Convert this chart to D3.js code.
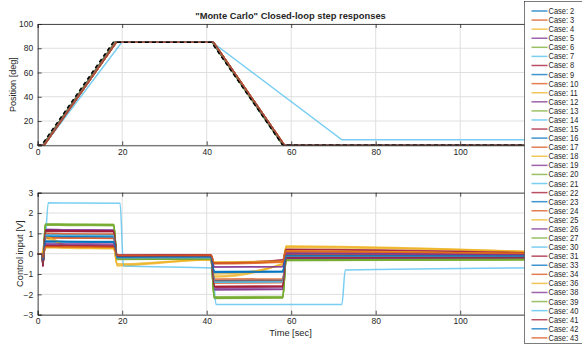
<!DOCTYPE html>
<html>
<head>
<meta charset="utf-8">
<script src="https://cdn.jsdelivr.net/npm/d3@7"></script>
<style>
  body { margin: 0; background: #fff; }
  svg text { font-family: "Liberation Sans", Arial, sans-serif; fill: #262626; }
</style>
</head>
<body>
<svg id="chart" width="582" height="345"></svg>
<script>
// ---- data ----
var cases = [2,3,4,5,6,7,8,9,10,11,12,13,14,15,16,17,18,19,20,21,22,23,24,25,26,27,30,31,33,34,36,38,39,40,41,42,43];
var outlierCase = 21;

// reference trajectory (black dashed) and nominal response
var refTimes  = [0, 0.9, 17.9, 41.1, 58.0, 120];
var refValues = [0, 0, 85, 85, 0, 0];
var posTimes  = [0, 1.2, 18.3, 41.3, 58.1, 120];
var posValues = [0, 0, 85, 85, 0, 0];
var posLag    = [0.1,0.2,0.3,0.1,0.0,0.2,0.3,0.1,0.2,0.3,0.1,0.0,0.2,0.3,0.1,0.2,0.3,0.1,0.0,0,0.3,0.1,0.2,0.3,0.1,0.0,0.2,0.3,0.1,0.2,0.3,0.1,0.0,0.2,0.3,0.1,0.15];
// slow case
var outPosTimes  = [0, 1.5, 19.9, 41.3, 72.0, 120];
var outPosValues = [0, 0, 85, 85, 4.5, 4.5];

// control input levels per case [V]
var ctrlDip       = [-0.3,-0.4,0.2,-0.6,-0.5,-0.4,-0.2,-0.5,-0.3,0.1,-0.6,-0.5,-0.4,-0.6,-0.3,-0.4,0.2,-0.3,-0.5,0,-0.6,-0.3,-0.4,-0.1,-0.6,-0.5,-0.4,-0.2,-0.5,-0.4,-0.1,-0.3,-0.5,-0.4,-0.6,-0.3,-0.2];
var ctrlUpStart   = [0.60,0.80,0.90,1.20,1.46,0.95,0.38,0.85,0.35,0.75,1.15,1.44,0.92,1.12,0.58,0.78,0.85,0.45,1.42,2.50,1.10,0.62,1.00,0.32,1.18,1.45,0.95,0.40,0.88,0.97,0.30,0.50,1.40,0.93,1.15,0.60,0.35];
var ctrlUpMid     = [0.59,0.78,0.40,1.18,1.45,0.93,0.37,0.83,0.34,0.35,1.13,1.43,0.91,1.11,0.57,0.76,0.33,0.44,1.41,2.49,1.09,0.61,0.98,0.30,1.16,1.44,0.93,0.39,0.86,0.95,0.27,0.49,1.39,0.91,1.13,0.59,0.33];
var ctrlUpEnd     = [0.58,0.76,0.30,1.17,1.44,0.92,0.36,0.82,0.33,0.28,1.12,1.42,0.90,1.10,0.56,0.75,0.25,0.43,1.40,2.48,1.08,0.60,0.97,0.28,1.15,1.43,0.92,0.38,0.85,0.94,0.24,0.48,1.38,0.90,1.12,0.58,0.32];
var ctrlHoldStart = [-0.18,-0.15,-0.55,-0.25,-0.28,-0.2,-0.08,-0.2,-0.1,-0.5,-0.24,-0.27,-0.2,-0.22,-0.17,-0.15,-0.6,-0.14,-0.26,-0.6,-0.1,-0.18,-0.2,-0.12,-0.24,-0.27,-0.2,-0.06,-0.2,-0.2,-0.1,-0.14,-0.26,-0.2,-0.12,-0.17,-0.09];
var ctrlHoldEnd   = [-0.17,-0.14,-0.3,-0.24,-0.27,-0.19,-0.07,-0.19,-0.09,-0.28,-0.23,-0.26,-0.19,-0.21,-0.16,-0.14,-0.3,-0.13,-0.25,-0.7,-0.09,-0.17,-0.19,-0.11,-0.23,-0.26,-0.19,-0.05,-0.19,-0.19,-0.09,-0.13,-0.25,-0.19,-0.11,-0.16,-0.08];
var ctrlDownStart = [-0.90,-1.30,-1.15,-1.78,-2.20,-1.40,-0.45,-1.35,-0.50,-1.00,-1.70,-2.18,-1.38,-1.65,-0.88,-1.25,-1.10,-0.65,-2.15,-2.50,-1.60,-0.92,-1.45,-0.45,-1.76,-2.19,-1.40,-0.44,-1.33,-1.36,-0.40,-0.66,-2.12,-1.39,-1.62,-0.90,-0.48];
var ctrlDownEnd   = [-0.88,-1.28,-0.50,-1.76,-2.18,-1.38,-0.30,-1.33,-0.42,-0.55,-1.68,-2.16,-1.36,-1.63,-0.86,-1.23,-0.48,-0.63,-2.13,-2.50,-1.58,-0.90,-1.43,-0.40,-1.74,-2.17,-1.38,-0.32,-1.31,-1.34,-0.36,-0.64,-2.10,-1.37,-1.60,-0.88,-0.40];
var ctrlPostStart = [-0.10,-0.05,0.38,-0.25,-0.34,-0.15,0.20,-0.15,0.10,0.30,-0.22,-0.32,-0.14,-0.20,-0.08,-0.04,0.35,0.02,-0.30,-0.80,-0.18,-0.10,-0.12,0.15,-0.24,-0.33,-0.15,0.22,-0.13,-0.12,0.12,0.03,-0.30,-0.14,-0.19,-0.09,0.12];
var ctrlPostEnd   = [-0.12,-0.08,0.08,-0.22,-0.30,-0.15,0.02,-0.15,-0.02,0.06,-0.20,-0.29,-0.14,-0.18,-0.11,-0.07,0.07,-0.05,-0.27,-0.69,-0.17,-0.12,-0.13,0.00,-0.21,-0.29,-0.15,0.03,-0.14,-0.13,-0.01,-0.05,-0.27,-0.14,-0.18,-0.11,0.01];
var ctrlSteps    = [1.0, 18.0, 41.0, 58.0];
var outCtrlSteps = [1.3, 19.5, 41.4, 72.0];

var xTicks = [0, 20, 40, 60, 80, 100, 120];
var posTicks = [0, 20, 40, 60, 80, 100];
var ctrlTicks = [-3, -2, -1, 0, 1, 2, 3];

var colors = ["#0072BD","#D95319","#EDB120","#7E2F8E","#77AC30","#4DBEEE","#A2142F"];

// ---- layout ----
var svg = d3.select("#chart");
var axColor = "#262626";
var x = d3.scaleLinear().domain([0, 120]).range([37.7, 544.7]);
var yPos = d3.scaleLinear().domain([0, 100]).range([145.3, 24]);
var yCtrl = d3.scaleLinear().domain([-3, 3]).range([314.7, 192.7]);

function fn_draw_axes(g, y, yTicks, id) {
	var x0 = x.range()[0], x1 = x.range()[1];
	var y0 = y.range()[0], y1 = y.range()[1];

	// grid
	g.append("g").selectAll("line").data(xTicks).enter().append("line")
		.attr("x1", function(d) { return x(d); }).attr("x2", function(d) { return x(d); })
		.attr("y1", y0).attr("y2", y1)
		.attr("stroke", "#dfdfdf").attr("stroke-width", 1);
	g.append("g").selectAll("line").data(yTicks).enter().append("line")
		.attr("x1", x0).attr("x2", x1)
		.attr("y1", function(d) { return y(d); }).attr("y2", function(d) { return y(d); })
		.attr("stroke", "#dfdfdf").attr("stroke-width", 1);

	g.append("clipPath").attr("id", id)
		.append("rect").attr("x", x0).attr("y", y1).attr("width", x1 - x0).attr("height", y0 - y1);
}

function fn_draw_frame(g, y, yTicks) {
	var x0 = x.range()[0], x1 = x.range()[1];
	var y0 = y.range()[0], y1 = y.range()[1];
	// inward ticks on all four sides
	var bottom = d3.axisBottom(x).tickValues(xTicks).tickSize(-4).tickPadding(3.5).tickFormat(d3.format("d"));
	var gb = g.append("g").attr("transform", "translate(0," + y0 + ")").call(bottom);
	var gt = g.append("g").attr("transform", "translate(0," + y1 + ")")
		.call(d3.axisTop(x).tickValues(xTicks).tickSize(-4).tickFormat(""));
	var left = d3.axisLeft(y).tickValues(yTicks).tickSize(-4).tickPadding(4.5).tickFormat(d3.format("d"));
	var gl = g.append("g").attr("transform", "translate(" + x0 + ",0)").call(left);
	var gr = g.append("g").attr("transform", "translate(" + x1 + ",0)")
		.call(d3.axisRight(y).tickValues(yTicks).tickSize(-4).tickFormat(""));
	[gb, gt, gl, gr].forEach(function(a) {
		a.select(".domain").attr("stroke", axColor).attr("stroke-width", 0.8);
		a.selectAll(".tick line").attr("stroke", axColor).attr("stroke-width", 0.8);
		a.selectAll("text").attr("font-size", "8.5px").attr("fill", axColor)
			.style("font-family", "'Liberation Sans', Arial, sans-serif");
	});
}

// size a label so that it spans the width seen in the picture
function fn_fit(sel, width) {
	var w = sel.node().getComputedTextLength();
	var fs = parseFloat(sel.attr("font-size"));
	sel.attr("font-size", (fs * width / w).toFixed(2) + "px");
}

var line = d3.line()
	.x(function(d) { return x(d[0]); });

// ---- top: position ----
var gTop = svg.append("g");
fn_draw_axes(gTop, yPos, posTicks, "clipTop");
var topLines = gTop.append("g").attr("clip-path", "url(#clipTop)");
line.y(function(d) { return yPos(d[1]); });

cases.forEach(function(c, i) {
	var pts;
	if (c === outlierCase) {
		pts = outPosTimes.map(function(t, k) { return [t, outPosValues[k]]; });
	} else {
		pts = posTimes.map(function(t, k) {
			return [k === 0 || k === posTimes.length - 1 ? t : t + posLag[i], posValues[k]];
		});
	}
	topLines.append("path")
		.attr("d", line(pts))
		.attr("fill", "none")
		.attr("stroke", colors[i % 7])
		.attr("stroke-opacity", 0.75)
		.attr("stroke-width", 1.5);
});
topLines.append("path")
	.attr("d", line(refTimes.map(function(t, k) { return [t, refValues[k]]; })))
	.attr("fill", "none")
	.attr("stroke", "#000")
	.attr("stroke-width", 1.5)
	.attr("stroke-dasharray", "4,3");
fn_draw_frame(gTop, yPos, posTicks);

// ---- bottom: control input ----
var gBot = svg.append("g");
fn_draw_axes(gBot, yCtrl, ctrlTicks, "clipBot");
var botLines = gBot.append("g").attr("clip-path", "url(#clipBot)");
var ctrlLine = d3.line()
	.x(function(d) { return x(d[0]); })
	.y(function(d) { return yCtrl(d[1]); })
	.curve(d3.curveMonotoneX);

cases.forEach(function(c, i) {
	var T = c === outlierCase ? outCtrlSteps : ctrlSteps;
	var rise = c === outlierCase ? 1.2 : 0.8;
	var pts = [
		[0, 0], [T[0], 0], [T[0] + 0.25, ctrlDip[i]], [T[0] + rise, ctrlUpStart[i]],
		[T[0] + 6, ctrlUpMid[i]],
		[T[1], ctrlUpEnd[i]], [T[1] + 0.8, ctrlHoldStart[i]],
		[T[2], ctrlHoldEnd[i]], [T[2] + 0.8, ctrlDownStart[i]],
		[T[3], ctrlDownEnd[i]], [T[3] + 0.8, ctrlPostStart[i]],
		[120, ctrlPostEnd[i]]
	];
	botLines.append("path")
		.attr("d", ctrlLine(pts))
		.attr("fill", "none")
		.attr("stroke", colors[i % 7])
		.attr("stroke-opacity", 0.75)
		.attr("stroke-width", 1.5);
});
fn_draw_frame(gBot, yCtrl, ctrlTicks);

// ---- texts ----
var title = svg.append("text")
	.attr("x", 290.5).attr("y", 19)
	.attr("text-anchor", "middle")
	.attr("font-size", "10px").attr("font-weight", "bold")
	.text("\"Monte Carlo\" Closed-loop step responses");
fn_fit(title, 191);

var yl1 = svg.append("text")
	.attr("transform", "translate(15.5," + ((24 + 145.3) / 2) + ") rotate(-90)")
	.attr("text-anchor", "middle")
	.attr("font-size", "10px")
	.text("Position [deg]");
fn_fit(yl1, 55);

var yl2 = svg.append("text")
	.attr("transform", "translate(22.5," + ((192.7 + 314.7) / 2) + ") rotate(-90)")
	.attr("text-anchor", "middle")
	.attr("font-size", "10px")
	.text("Control input [V]");
fn_fit(yl2, 66.5);

var xl = svg.append("text")
	.attr("x", 290.5).attr("y", 336)
	.attr("text-anchor", "middle")
	.attr("font-size", "10px")
	.text("Time [sec]");
fn_fit(xl, 42.5);

// ---- legend ----
var legend = svg.append("g");
legend.append("rect")
	.attr("x", 524.5).attr("y", 1.5)
	.attr("width", 70).attr("height", 342)
	.attr("fill", "#fff")
	.attr("stroke", axColor)
	.attr("stroke-width", 0.6);

var entry = legend.selectAll("g.entry").data(cases).enter().append("g")
	.attr("class", "entry")
	.attr("transform", function(d, i) { return "translate(0," + (11 + i * 9.08) + ")"; });
entry.append("line")
	.attr("x1", 531.5).attr("x2", 547.5)
	.attr("stroke", function(d, i) { return colors[i % 7]; })
	.attr("stroke-opacity", 0.75)
	.attr("stroke-width", 1.5);
entry.append("text")
	.attr("transform", "translate(548.5,3) scale(0.9,1)")
	.attr("font-size", "8.3px")
	.text(function(d) { return "Case: " + d; });
</script>
</body>
</html>
